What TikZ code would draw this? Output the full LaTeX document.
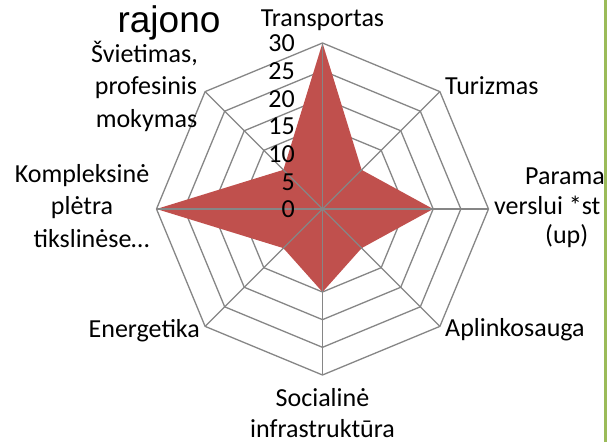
\documentclass[tikz,border=0pt]{standalone}
\usepackage{fontspec}
\setmainfont{Carlito}
\newfontfamily\headfont{Liberation Sans}
\usetikzlibrary{calc}
\definecolor{gridgray}{RGB}{134,134,134}
\definecolor{radarred}{RGB}{192,80,77}
\definecolor{framegreen}{RGB}{155,187,89}

\begin{document}
\begin{tikzpicture}[x=1pt, y=1pt,
    gridline/.style={draw=gridgray, line width=1.3pt},
    radar/.style={fill=radarred},
    lab/.style={font=\fontsize{26}{31}\selectfont, inner sep=0pt},
    tick/.style={lab, anchor=base east}]
  \useasboundingbox[fill=white] (0,0) rectangle (608,442);
  \coordinate (O) at (322.5,233);
  \begin{scope}[shift={(O)}]
    \foreach \k [evaluate=\k as \r using \k*27.667] in {1,...,6}
      \draw[gridline] (90:\r) \foreach \a in {45,0,...,-225} {-- (\a:\r)} -- cycle;
    \foreach \a/\val [count=\i] in {90/30, 45/10, 0/20, -45/10, -90/15, -135/10, 180/30, 135/10} {
      \coordinate (v\i) at (\a:\val*5.5333);
      \coordinate (ax\i) at (\a:166);
    }
  \end{scope}
  \fill[radar] (v1) -- (v2) -- (v3) -- (v4) -- (v5) -- (v6) -- (v7) -- (v8) -- cycle;
  \foreach \i in {1,...,8}
    \draw[gridline] (O) -- (ax\i);

  \foreach \v [count=\j from 0] in {0,5,...,30}
    \node[tick] (t\v) at (295,224+\j*27.667) {\v};

  \node[font=\headfont\fontsize{37}{40}\selectfont, anchor=base, inner sep=0pt] (title) at (169,409) {rajono};
  \node[lab, anchor=base] (transport) at (322.5,415) {Transportas};
  \node[lab, anchor=base west] (turizm) at (445,347) {Turizmas};
  \node[lab, anchor=base west] (parama1) at (525,257) {Parama};
  \node[lab, anchor=base west] (parama2) at (494,227) {verslui *st};
  \node[lab, anchor=base west] (parama3) at (545,198) {(up)};
  \node[lab, anchor=base west] (aplink) at (445,105) {Aplinkosauga};
  \node[lab, anchor=base] (social1) at (322.5,35) {Socialinė};
  \node[lab, anchor=base] (social2) at (322.5,5) {infrastruktūra};
  \node[lab, anchor=base east] (energ) at (200,104) {Energetika};
  \node[lab, anchor=base] (kompl1) at (82,259) {Kompleksinė};
  \node[lab, anchor=base] (kompl2) at (82,227) {plėtra};
  \node[lab, anchor=base] (kompl3) at (91.5,194) {tikslinėse…};
  \node[lab, anchor=base] (sviet1) at (144.5,379) {Švietimas,};
  \node[lab, anchor=base] (sviet2) at (146,347) {profesinis};
  \node[lab, anchor=base] (sviet3) at (146.5,314) {mokymas};

  \draw[framegreen, line width=3pt] (605.5,0) -- (605.5,442);
\end{tikzpicture}
\end{document}
